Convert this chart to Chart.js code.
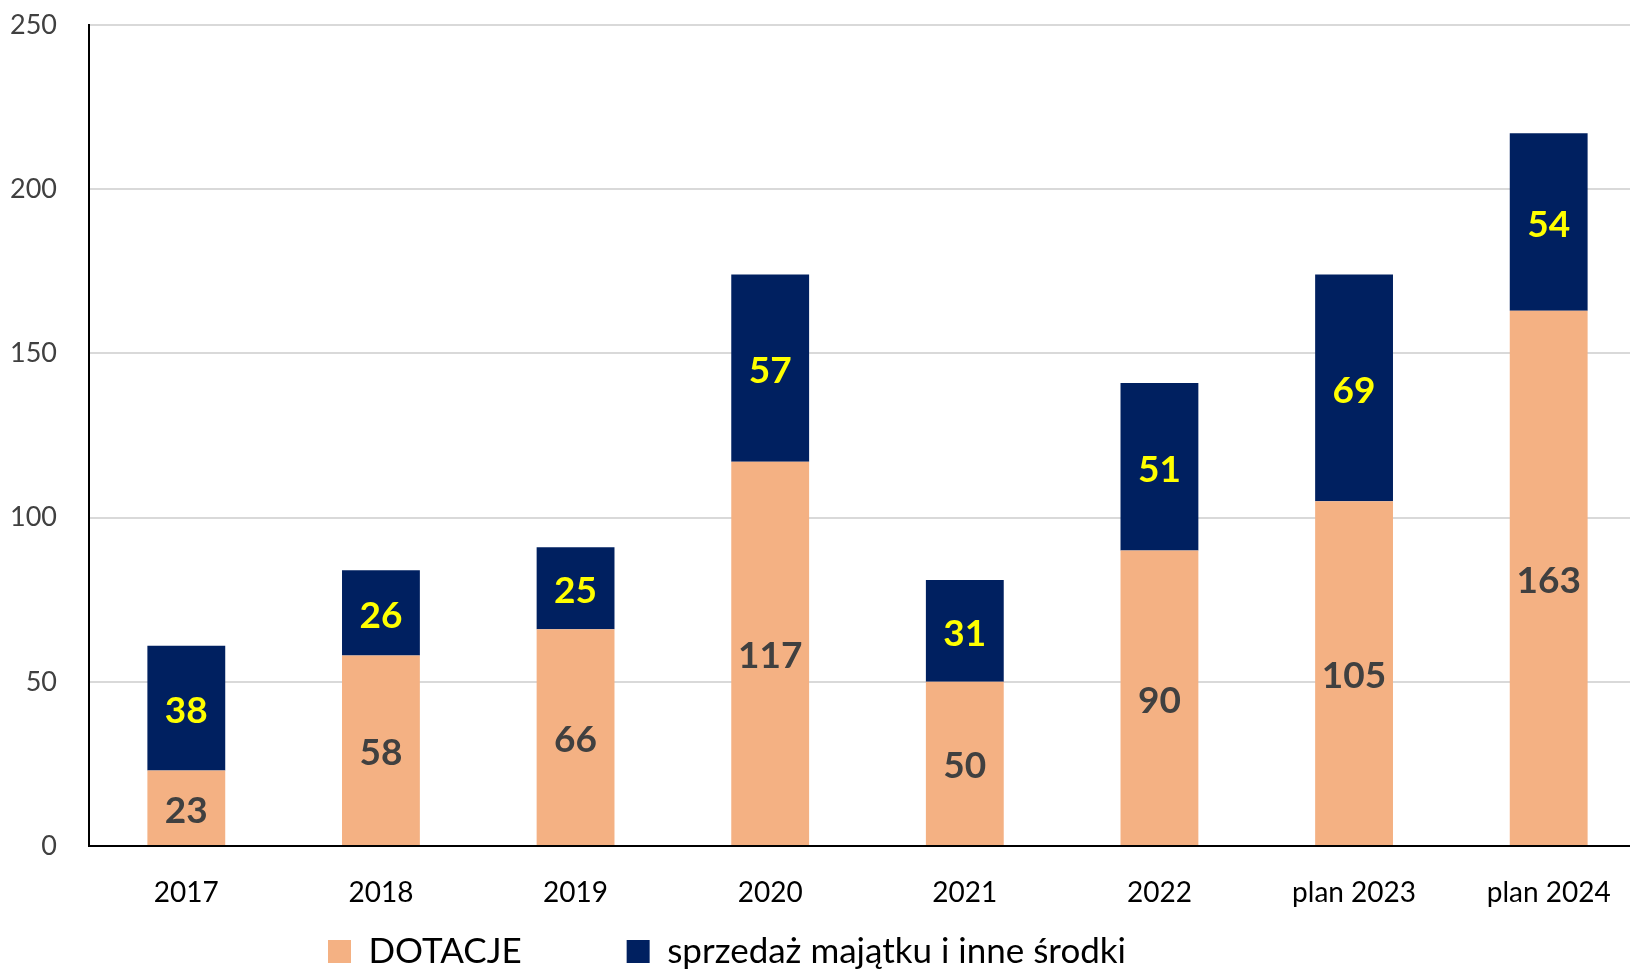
<!DOCTYPE html>
<html>
<head>
<meta charset="utf-8">
<script src="https://cdn.jsdelivr.net/npm/chart.js@4/dist/chart.umd.min.js"></script>
<style>
  html, body { margin: 0; padding: 0; background: #ffffff; }
  #wrap { width: 1630px; height: 972px; position: relative; }
</style>
</head>
<body>
<div id="wrap"><canvas id="c"></canvas></div>
<script>
const categories = ["2017", "2018", "2019", "2020", "2021", "2022", "plan 2023", "plan 2024"];
const dotacje = [23, 58, 66, 117, 50, 90, 105, 163];
const sprzedaz = [38, 26, 25, 57, 31, 51, 69, 54];
const seriesNames = ["DOTACJE", "sprzedaż majątku i inne środki"];
const yTicks = [0, 50, 100, 150, 200, 250];

const FONT = "Lato, 'Open Sans', sans-serif";

const valueLabels = {
  id: 'valueLabels',
  afterDatasetsDraw(chart) {
    const ctx = chart.ctx;
    ctx.save();
    ctx.font = "bold 37px " + FONT;
    ctx.textAlign = 'center';
    ctx.textBaseline = 'middle';
    chart.data.datasets.forEach((ds, di) => {
      const meta = chart.getDatasetMeta(di);
      ctx.fillStyle = ds.labelColor;
      meta.data.forEach((el, i) => {
        const v = ds.data[i];
        const cy = (el.y + el.base) / 2 + 3;
        ctx.fillText(String(v), el.x, cy);
      });
    });
    ctx.restore();
  }
};

const areaFix = {
  id: 'areaFix',
  afterLayout(chart) {
    const ca = chart.chartArea;
    const y = chart.scales.y, x = chart.scales.x;
    // plot area: top at 25px, right edge runs past the canvas like the cropped original
    ca.top = 25; ca.height = ca.bottom - ca.top;
    ca.right = 1646; ca.width = ca.right - ca.left;
    y.top = 25; y.height = y.bottom - y.top; y.configure();
    x.right = 1646; x.width = x.right - x.left; x.configure();
    const lg = chart.legend;
    if (lg) {
      const pad = lg.options.labels.padding;
      lg.left -= 88; lg.right -= 88;
      lg.top = 934 - pad;
      lg.bottom = 972;
      lg.height = lg.bottom - lg.top;
    }
  }
};

new Chart(document.getElementById('c'), {
  type: 'bar',
  data: {
    labels: categories,
    datasets: [
      { label: seriesNames[0], data: dotacje, backgroundColor: '#F4B183', labelColor: '#404040',
        barPercentage: 0.4, categoryPercentage: 1.0 },
      { label: seriesNames[1], data: sprzedaz, backgroundColor: '#002060', labelColor: '#FFFF00',
        barPercentage: 0.4, categoryPercentage: 1.0 }
    ]
  },
  options: {
    responsive: true,
    maintainAspectRatio: false,
    animation: false,
    layout: { padding: { left: 0, right: 0, top: 3, bottom: 4 } },
    plugins: {
      tooltip: { enabled: false },
      legend: {
        position: 'bottom',
        maxHeight: 60,
        labels: {
          boxWidth: 23, boxHeight: 23, padding: 105,
          color: '#000000',
          font: { family: FONT, size: 35 }
        }
      }
    },
    scales: {
      x: {
        stacked: true,
        grid: { display: false, drawTicks: false },
        border: { display: true, color: '#000000', width: 2 },
        ticks: { color: '#000000', padding: 30, font: { family: FONT, size: 28 }, maxRotation: 0 },
        afterFit(scale) { scale.height = 62; }
      },
      y: {
        stacked: true,
        min: 0, max: 250,
        afterBuildTicks(scale) { scale.ticks = yTicks.map(v => ({ value: v })); },
        grid: { color: '#d9d9d9', lineWidth: 2, drawTicks: false },
        border: { display: true, color: '#000000', width: 2 },
        ticks: { color: '#404040', padding: 32, font: { family: FONT, size: 27 } },
        afterFit(scale) { scale.width = 89; }
      }
    }
  },
  plugins: [valueLabels, areaFix]
});
</script>
</body>
</html>
